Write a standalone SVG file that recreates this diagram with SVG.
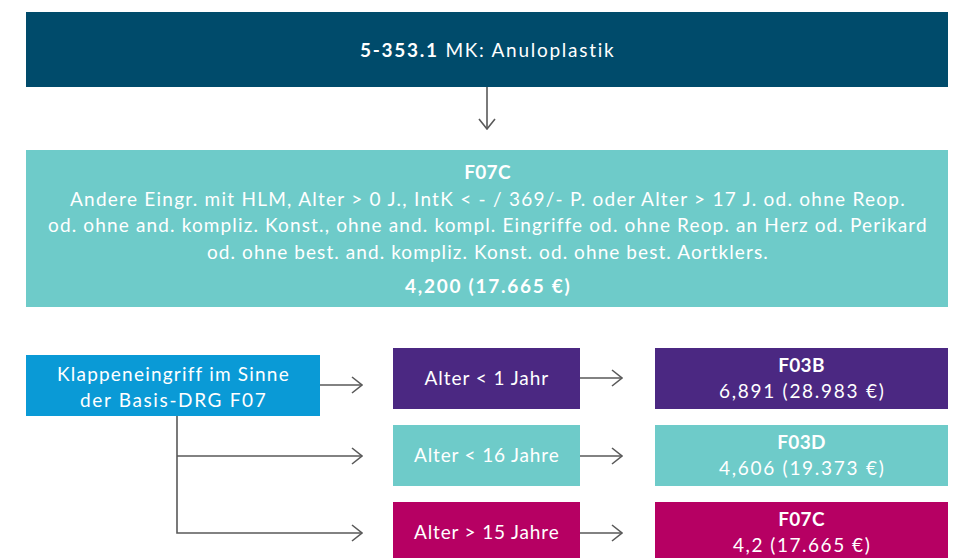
<svg xmlns="http://www.w3.org/2000/svg" width="956" height="558" viewBox="0 0 956 558">
<defs>
<style>
text{font-family:Lato,"Open Sans","DejaVu Sans",sans-serif;fill:#ffffff;text-anchor:middle;font-size:19px;letter-spacing:0.3px}
.b{font-weight:bold}
.con{fill:none;stroke:#595959;stroke-width:1.6}
</style>
<marker id="ah" viewBox="0 0 12 18" refX="11" refY="9" markerWidth="12" markerHeight="18" markerUnits="userSpaceOnUse" orient="auto">
<path d="M1,1 L11,9 L1,17" fill="none" stroke="#595959" stroke-width="1.6"/>
</marker>
</defs>
<rect width="956" height="558" fill="#ffffff"/>
<g id="connectors">
<path class="con" d="M487,87 V129" marker-end="url(#ah)"/>
<path class="con" d="M320,385 H362" marker-end="url(#ah)"/>
<path class="con" d="M177,416 V533 H362" marker-end="url(#ah)"/>
<path class="con" d="M177,456 H362" marker-end="url(#ah)"/>
<path class="con" d="M580,378 H622" marker-end="url(#ah)"/>
<path class="con" d="M580,456 H622" marker-end="url(#ah)"/>
<path class="con" d="M580,533 H622" marker-end="url(#ah)"/>
</g>
<g id="n-top">
<rect x="26" y="12" width="922" height="75" fill="#004b6b"/>
<text x="487" y="57" textLength="254" lengthAdjust="spacing"><tspan class="b">5-353.1</tspan> MK: Anuloplastik</text>
</g>
<g id="n-f07c">
<rect x="26" y="150" width="922" height="157" fill="#6ecbc9"/>
<text class="b" x="487.5" y="179">F07C</text>
<text x="487.5" y="206" textLength="835" lengthAdjust="spacing">Andere Eingr. mit HLM, Alter &gt; 0 J., IntK &lt; - / 369/- P. oder Alter &gt; 17 J. od. ohne Reop.</text>
<text x="487.5" y="232" textLength="879" lengthAdjust="spacing">od. ohne and. kompliz. Konst., ohne and. kompl. Eingriffe od. ohne Reop. an Herz od. Perikard</text>
<text x="487.5" y="259" textLength="561" lengthAdjust="spacing">od. ohne best. and. kompliz. Konst. od. ohne best. Aortklers.</text>
<text class="b" x="487.5" y="293" textLength="165" lengthAdjust="spacing">4,200 (17.665 €)</text>
</g>
<g id="n-klappe">
<rect x="26" y="355" width="294" height="61" fill="#0a9ad6"/>
<text x="173" y="381" textLength="232" lengthAdjust="spacing">Klappeneingriff im Sinne</text>
<text x="173" y="407" textLength="186" lengthAdjust="spacing">der Basis-DRG F07</text>
</g>
<g id="n-alter1">
<rect x="393" y="348" width="187" height="61" fill="#4b2882"/>
<text x="486.5" y="385" textLength="124" lengthAdjust="spacing">Alter &lt; 1 Jahr</text>
</g>
<g id="n-alter16">
<rect x="393" y="425" width="187" height="61" fill="#6ecbc9"/>
<text x="486.5" y="462" textLength="145" lengthAdjust="spacing">Alter &lt; 16 Jahre</text>
</g>
<g id="n-alter15">
<rect x="393" y="502" width="187" height="61" fill="#b60063"/>
<text x="486.5" y="539" textLength="145" lengthAdjust="spacing">Alter &gt; 15 Jahre</text>
</g>
<g id="n-f03b">
<rect x="655" y="348" width="293" height="61" fill="#4b2882"/>
<text class="b" x="801.5" y="372">F03B</text>
<text x="801.5" y="398" textLength="165" lengthAdjust="spacing">6,891 (28.983 €)</text>
</g>
<g id="n-f03d">
<rect x="655" y="425" width="293" height="61" fill="#6ecbc9"/>
<text class="b" x="801.5" y="449">F03D</text>
<text x="801.5" y="475" textLength="165" lengthAdjust="spacing">4,606 (19.373 €)</text>
</g>
<g id="n-f07c2">
<rect x="655" y="502" width="293" height="61" fill="#b60063"/>
<text class="b" x="801.5" y="526">F07C</text>
<text x="801.5" y="552" textLength="137" lengthAdjust="spacing">4,2 (17.665 €)</text>
</g>
</svg>
